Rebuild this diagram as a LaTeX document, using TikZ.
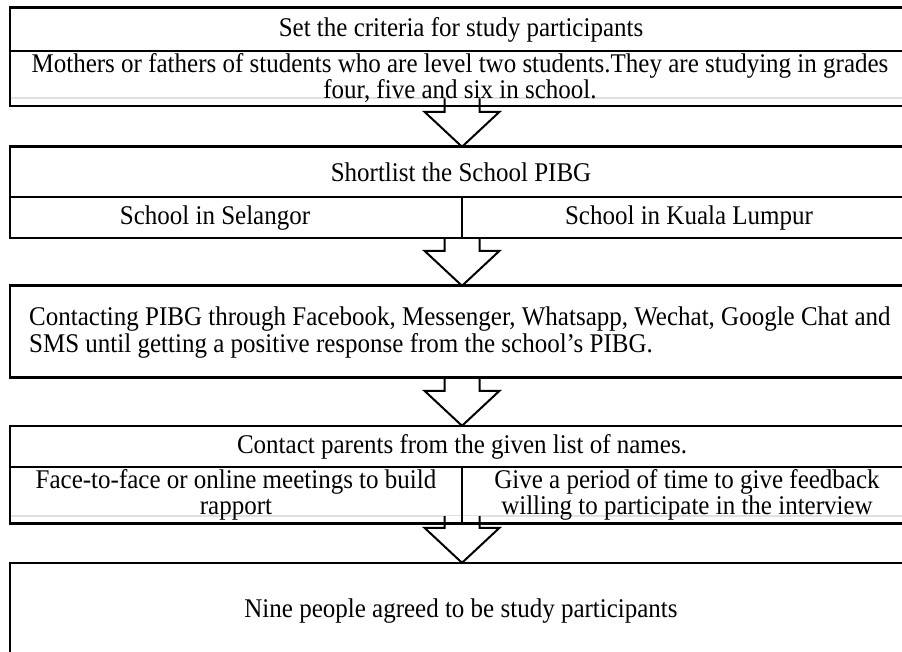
\documentclass[tikz,border=0pt]{standalone}
\usepackage{fontspec}
\setmainfont{Liberation Serif}
\usetikzlibrary{calc}

\tikzset{
  cellrule/.style={line width=2pt},
  faint/.style={draw=black!12, line width=2pt},
  arrowline/.style={line width=2pt, line join=miter},
  label/.style={inner sep=0pt, align=center, yscale=1.08, transform shape,
    font=\fontsize{25}{25}\selectfont},
  slot/.style={minimum width=900pt, inner sep=0pt},
}

% block arrow from the top of its stem (#1) to its tip (#2)
\newcommand{\flowarrow}[2]{%
  \fill[white] let \p1=(#1), \p2=(#2) in
    (\x1-17.5pt,\y1) -- (\x1-17.5pt,\y2+35pt) -- (\x1-37.5pt,\y2+35pt) --
    (\x2,\y2) -- (\x1+37.5pt,\y2+35pt) -- (\x1+17.5pt,\y2+35pt) --
    (\x1+17.5pt,\y1) -- cycle;
  \draw[arrowline] let \p1=(#1), \p2=(#2) in
    (\x1-17.5pt,\y1) -- (\x1-17.5pt,\y2+35pt) -- (\x1-37.5pt,\y2+35pt) --
    (\x2,\y2) -- (\x1+37.5pt,\y2+35pt) -- (\x1+17.5pt,\y2+35pt) --
    (\x1+17.5pt,\y1);
}

\begin{document}
\begin{tikzpicture}[x=1pt, y=-1pt]
  \useasboundingbox (0,0) rectangle (902,652);
  \clip (0,0) rectangle (902,652);
  \fill[white] (0,0) rectangle (902,652);

  \coordinate (axis) at (462,0);

  % faint rules under the two-line rows
  \coordinate (g1) at (462,98.5);
  \coordinate (g4) at (462,516);
  \draw[faint] (10,98.5) -- (910,98.5);
  \draw[faint] (10,516) -- (910,516);

  % the five step boxes (framed after the arrows are laid down)
  \path (460,57)    node[slot, minimum height=98pt]  (b1) {};
  \path (460,192.5) node[slot, minimum height=91pt]  (b2) {};
  \path (460,331.5) node[slot, minimum height=91pt]  (b3) {};
  \path (460,474.5) node[slot, minimum height=97pt]  (b4) {};
  \path (460,620)   node[slot, minimum height=114pt] (b5) {};

  % arrows between the steps
  \flowarrow{axis |- g1}{axis |- b2.north}
  \flowarrow{axis |- b2.south}{axis |- b3.north}
  \flowarrow{axis |- b3.south}{axis |- b4.north}
  \flowarrow{axis |- g4}{axis |- b5.north}

  % frames
  \foreach \b in {b1,b2,b3,b4,b5}
    \draw[line width=2.6pt] (\b.north west) rectangle (\b.south east);

  % inner cell rules
  \draw[cellrule] (10,51) -- (910,51);
  \draw[cellrule] (10,197) -- (910,197);
  \draw[cellrule] (462,197) -- (462,238);
  \draw[cellrule] (10,467) -- (910,467);
  \draw[line width=2.4pt] (10,467) rectangle (462,523);

  % texts
  \node[label] (t1) at (461,30) {Set the criteria for study participants};
  \node[label, font=\fontsize{25}{21.5}\selectfont] (t2) at (460,78)
    {Mothers or fathers of students who are level two students.They are studying in grades\\
     four, five and six in school.};
  \node[label] (t3) at (461,172) {Shortlist the School PIBG};
  \node[label] (t4) at (215,218) {School in Selangor};
  \node[label] (t5) at (689,218) {School in Kuala Lumpur};
  \node[label, anchor=west, align=left, font=\fontsize{25}{25}\selectfont] (t6) at (29,333)
    {Contacting PIBG through Facebook, Messenger, Whatsapp, Wechat, Google Chat and\\
     SMS until getting a positive response from the school's PIBG.};
  \node[label] (t7) at (462,447) {Contact parents from the given list of names.};
  \node[label, font=\fontsize{25}{24}\selectfont] (t8) at (236,495)
    {Face-to-face or online meetings to build\\ rapport};
  \node[label, font=\fontsize{25}{24}\selectfont] (t9) at (687,495)
    {Give a period of time to give feedback\\ willing to participate in the interview};
  \node[label] (t10) at (461,611) {Nine people agreed to be study participants};
\end{tikzpicture}
\end{document}
